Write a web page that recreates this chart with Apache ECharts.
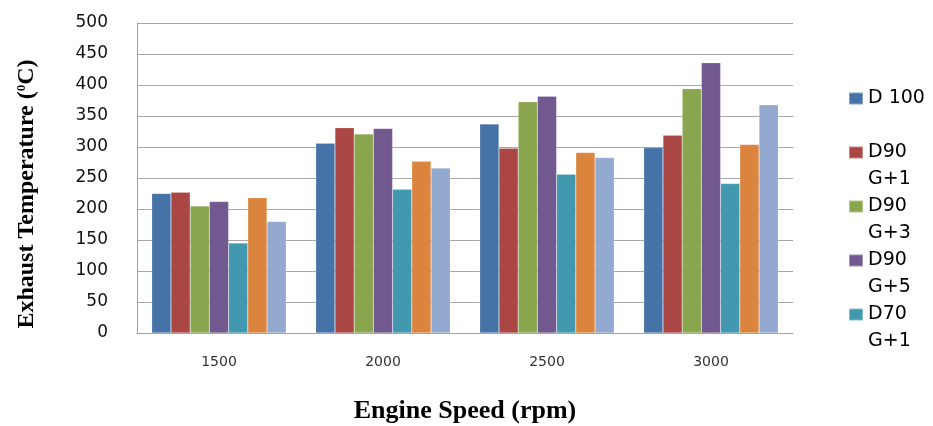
<!DOCTYPE html>
<html>
<head>
<meta charset="utf-8">
<script src="https://cdn.jsdelivr.net/npm/echarts@6/dist/echarts.min.js"></script>
<style>html,body{margin:0;padding:0;background:#fff}#c{width:933px;height:426px}</style>
</head>
<body>
<div id="c"></div>
<script>
const categories = ['1500', '2000', '2500', '3000'];
const seriesNames = ['D 100', 'D90 G+1', 'D90 G+3', 'D90 G+5', 'D70 G+1', 'D70 G+3', 'D70 G+5'];
const legendShown = ['D 100', 'D90 G+1', 'D90 G+3', 'D90 G+5', 'D70 G+1'];
const d100   = [225, 306, 337, 299];
const d90g1  = [227, 331, 298, 319];
const d90g3  = [205, 321, 373, 394];
const d90g5  = [212, 330, 382, 436];
const d70g1  = [145, 232, 256, 241];
const d70g3  = [218, 277, 291, 304];
const d70g5  = [180, 266, 283, 368];
const yTicks = [0, 50, 100, 150, 200, 250, 300, 350, 400, 450, 500];
const colors = ['#4572A7', '#AA4643', '#89A54E', '#71588F', '#4198AF', '#DB843D', '#93A9CF'];

const values = [d100, d90g1, d90g3, d90g5, d70g1, d70g3, d70g5];

const chart = echarts.init(document.getElementById('c'));
chart.setOption({
  animation: false,
  color: colors,
  grid: { left: 137, right: 140, top: 23, bottom: 93, containLabel: false, outerBoundsMode: 'none' },
  legend: {
    orient: 'vertical',
    left: 843,
    top: 53,
    height: 900,
    itemWidth: 14,
    itemHeight: 12,
    itemGap: -27,
    icon: 'rect',
    data: legendShown,
    formatter: function (n) { return n.indexOf(' G') >= 0 ? '\n' + n.replace(' G', '\nG') : '\n' + n + '\n '; },
    textStyle: { fontFamily: 'DejaVu Sans', fontSize: 19, color: '#000', lineHeight: 27 }
  },
  xAxis: {
    type: 'category',
    data: categories,
    axisLine: { lineStyle: { color: '#A0A0A0', width: 1 } },
    axisTick: { show: false },
    axisLabel: { fontFamily: 'DejaVu Sans', fontSize: 14, color: '#333', margin: 22 },
    name: 'Engine Speed (rpm)',
    nameLocation: 'middle',
    nameGap: 65,
    nameTextStyle: { fontFamily: 'Liberation Serif', fontWeight: 'bold', fontSize: 26, color: '#000' }
  },
  yAxis: {
    type: 'value',
    min: 0, max: 500, interval: 50,
    axisLine: { show: true, lineStyle: { color: '#A0A0A0', width: 1 } },
    axisTick: { show: false },
    splitLine: { lineStyle: { color: '#A8A8A8', width: 1 } },
    axisLabel: { fontFamily: 'DejaVu Sans', fontSize: 17, color: '#111', margin: 29,
      formatter: function (v) { return yTicks.indexOf(v) >= 0 ? String(v) : ''; } }
  },
  graphic: [{
    type: 'text',
    x: 27, y: 194,
    rotation: Math.PI / 2,
    style: {
      text: '{a|Exhaust Temperature (}{s|0}{a|C)}',
      align: 'center', verticalAlign: 'middle',
      rich: {
        a: { fontFamily: 'Liberation Serif', fontWeight: 'bold', fontSize: 24, fill: '#000' },
        s: { fontFamily: 'Liberation Serif', fontWeight: 'bold', fontSize: 13, fill: '#000', verticalAlign: 'top', padding: [0, 0, 10, 0] }
      }
    }
  }],
  series: seriesNames.map(function (n, i) {
    return {
      name: n, type: 'bar', data: values[i],
      barGap: '0%', barCategoryGap: '18%',
      itemStyle: { borderColor: 'rgba(255,255,255,0.35)', borderWidth: 0.5 }
    };
  })
});
</script>
</body>
</html>
